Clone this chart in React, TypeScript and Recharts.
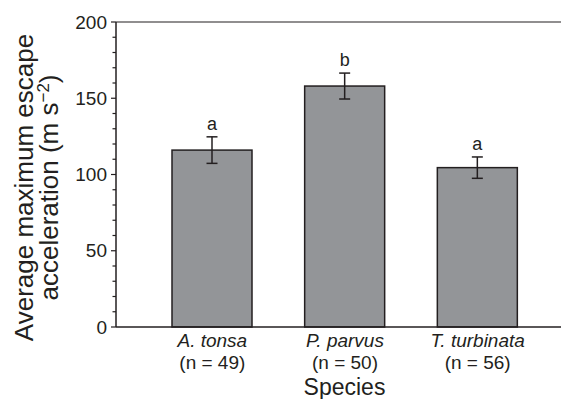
import { BarChart, Bar, XAxis, YAxis, ErrorBar, ReferenceLine } from 'recharts';

const species = ["A. tonsa", "P. parvus", "T. turbinata"];
const nLabels = ["(n = 49)", "(n = 50)", "(n = 56)"];
const means = [116, 158, 104.5];
const errs = [8.7, 8.5, 7];
const letters = ["a", "b", "a"];
const yTicks = [0, 10, 20, 30, 40, 50, 60, 70, 80, 90, 100, 110, 120, 130, 140, 150, 160, 170, 180, 190, 200];

const ink = "#231f20";
const font = "'Liberation Sans', Arial, sans-serif";

const data = species.map((s, i) => ({
    species: s,
    n: nLabels[i],
    mean: means[i],
    err: errs[i],
    letter: letters[i],
}));

const YTick = (props: any) => {
    const { x, y, payload } = props;
    const major = payload.value % 50 === 0;
    return (
        <g>
            <line x1={x} x2={x - (major ? 5 : 3.5)} y1={y} y2={y} stroke={ink} strokeWidth={1.2} />
            {major &&
                <text x={x - 9} y={y} dy={6.5} textAnchor="end" fontSize={19} fontFamily={font} fill={ink}>
                    {payload.value}
                </text>}
        </g>
    );
};

const XTick = (props: any) => {
    const { x, y, payload, index } = props;
    return (
        <g>
            <text x={x} y={y} textAnchor="middle" fontSize={19} fontFamily={font} fill={ink}>
                <tspan x={x} dy={20} fontStyle="italic">{payload.value}</tspan>
                <tspan x={x} dy={22}>{nLabels[index]}</tspan>
            </text>
        </g>
    );
};

const BarShape = (props: any) => {
    const { x, y, width, height, payload } = props;
    const perUnit = height / payload.mean;
    const top = y - payload.err * perUnit;
    return (
        <g>
            <rect x={x} y={y} width={width} height={height} fill="#939598" stroke={ink} strokeWidth={1.5} />
            <text x={x + width / 2} y={top - 7} textAnchor="middle" fontSize={18} fontFamily={font} fill={ink}>
                {payload.letter}
            </text>
        </g>
    );
};

const YLabel = (props: any) => {
    const { viewBox } = props;
    const cy = viewBox.y + viewBox.height / 2 + 13;
    return (
        <g fontFamily={font} fill={ink} fontSize={26}>
            <text x={33} y={cy} textAnchor="middle" transform={`rotate(-90, 33, ${cy})`}>
                Average maximum escape
            </text>
            <text x={58} y={cy} textAnchor="middle" transform={`rotate(-90, 58, ${cy})`}>
                acceleration (m s<tspan dy={-9} fontSize={17}>−2</tspan><tspan dy={9}>)</tspan>
            </text>
        </g>
    );
};

const XLabel = (props: any) => {
    const { viewBox } = props;
    return (
        <text x={viewBox.x + viewBox.width / 2 + 6} y={395} textAnchor="middle" fontSize={23} fontFamily={font} fill={ink}>
            Species
        </text>
    );
};

export default function App() {
    return (
        <div style={{ position: 'absolute', left: 0, top: 0 }}>
            <BarChart width={561} height={399} data={data} margin={{ top: 22, right: 0, bottom: 0, left: 0 }}>
                <XAxis
                    dataKey="species"
                    height={72}
                    padding={{ left: 30, right: 17 }}
                    tick={<XTick />}
                    tickSize={0}
                    tickMargin={0}
                    tickLine={false}
                    axisLine={{ stroke: ink, strokeWidth: 1.5 }}
                    interval={0}
                    label={<XLabel />}
                />
                <YAxis
                    width={116}
                    domain={[0, 200]}
                    ticks={yTicks}
                    interval={0}
                    tick={<YTick />}
                    tickSize={0}
                    tickMargin={0}
                    tickLine={false}
                    axisLine={{ stroke: ink, strokeWidth: 1.5 }}
                    label={<YLabel />}
                />
                <ReferenceLine y={200} stroke={ink} strokeWidth={1.2} />
                <Bar dataKey="mean" barSize={80} shape={<BarShape />} isAnimationActive={false}>
                    <ErrorBar dataKey="err" width={5.5} stroke={ink} strokeWidth={1.5} direction="y" isAnimationActive={false} />
                </Bar>
            </BarChart>
        </div>
    );
}
